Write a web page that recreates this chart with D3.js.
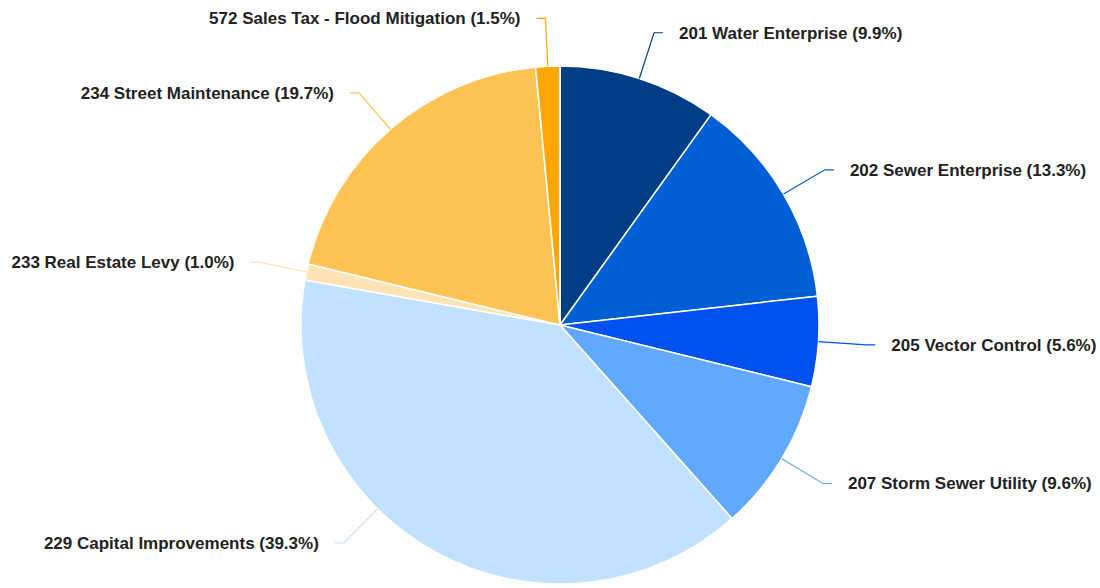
<!DOCTYPE html>
<html>
<head>
<meta charset="utf-8">
<script src="https://cdn.jsdelivr.net/npm/d3@7"></script>
<style>
  body { margin: 0; background: #fff; }
  svg { display: block; }
  .label { font-family: "Liberation Sans", Arial, sans-serif; font-size: 17px; font-weight: bold; fill: #222; }
</style>
</head>
<body>
<svg id="chart" width="1100" height="588"></svg>
<script>
// Fund names, share of total (%) and slice colours
var funds = [
    "201 Water Enterprise",
    "202 Sewer Enterprise",
    "205 Vector Control",
    "207 Storm Sewer Utility",
    "229 Capital Improvements",
    "233 Real Estate Levy",
    "234 Street Maintenance",
    "572 Sales Tax - Flood Mitigation"
];
var shares = [9.9, 13.3, 5.6, 9.6, 39.3, 1.0, 19.7, 1.5];
var colors = ["#003d87", "#005fd5", "#0050ef", "#60a9ff", "#c1e1ff", "#ffe3b4", "#ffc353", "#ffa600"];

var width = 1100, height = 588;
var cx = 560, cy = 325, radius = 259;
var elbowR = radius + 48;
var yMin = 17, yMax = 543;

var svg = d3.select("#chart");
var g = svg.append("g").attr("transform", "translate(" + cx + "," + cy + ")");

var data = funds.map(function(f, i) { return { name: f, value: shares[i], color: colors[i] }; });

var pie = d3.pie().sort(null).value(function(d) { return d.value; });
var arc = d3.arc().innerRadius(0).outerRadius(radius);
var arcs = pie(data);

// Slices
g.selectAll("path.slice")
    .data(arcs)
  .enter().append("path")
    .attr("class", "slice")
    .attr("d", arc)
    .attr("fill", function(d) { return d.data.color; })
    .attr("stroke", "#fff")
    .attr("stroke-width", 1.5)
    .attr("stroke-linejoin", "round");

// Label layout: elbow on outer circle, clamped vertically to the chart area
arcs.forEach(function(d) {
    var a = (d.startAngle + d.endAngle) / 2;
    var ey = -elbowR * Math.cos(a);
    var clamped = Math.max(yMin - cy, Math.min(yMax - cy, ey));
    if (clamped !== ey) {
        // slide angle along circle to reach clamped y, keeping the side
        var c = Math.acos(-clamped / elbowR);
        a = Math.sin(a) < 0 ? 2 * Math.PI - c : c;
    }
    d.right = Math.sin(a) >= 0;
    d.start = [radius * Math.sin(a), -radius * Math.cos(a)];
    d.elbow = [elbowR * Math.sin(a), -elbowR * Math.cos(a)];
    d.end = [d.elbow[0] + (d.right ? 9 : -9), d.elbow[1]];
});

// Connector lines
g.selectAll("polyline.connector")
    .data(arcs)
  .enter().append("polyline")
    .attr("class", "connector")
    .attr("points", function(d) { return [d.start, d.elbow, d.end].join(" "); })
    .attr("fill", "none")
    .attr("stroke", function(d) { return d.data.color; })
    .attr("stroke-width", 1.2);

// Labels
g.selectAll("text.label")
    .data(arcs)
  .enter().append("text")
    .attr("class", "label")
    .attr("x", function(d) { return d.end[0] + (d.right ? 16 : -16); })
    .attr("y", function(d) { return d.end[1]; })
    .attr("dy", "0.35em")
    .attr("text-anchor", function(d) { return d.right ? "start" : "end"; })
    .text(function(d) { return d.data.name + " (" + d3.format(".1f")(d.data.value) + "%)"; });
</script>
</body>
</html>
